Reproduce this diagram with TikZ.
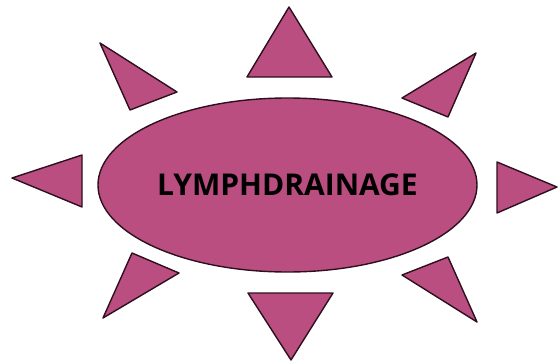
\documentclass[tikz,border=0pt]{standalone}
\usepackage{fontspec}
\setmainfont{Open Sans}
\usepackage{xcolor}
\usepackage{tikz}
\usetikzlibrary{shapes.geometric,positioning,calc}

\definecolor{rayfill}{RGB}{186,78,128}
\definecolor{rayline}{RGB}{45,15,30}

\begin{document}
\begin{tikzpicture}[x=1pt, y=-1pt, line join=round,
  ray/.style={fill=rayfill, draw=rayline, line width=1.4pt}]
\useasboundingbox (0,0) rectangle (558,362);
\node[ellipse, ray, minimum width=379pt, minimum height=174pt, inner sep=0pt,
  font=\fontsize{30}{30}\selectfont\bfseries] (drain) at (287.5,185) {LYMPHDRAINAGE};
% rays round the ellipse
\foreach \ax/\ay/\bx/\by/\cx/\cy in {289/7/247/77/332/77, 100/43/177/92/130/110,
                     476/53/402/98/448/117, 12/178/82/155/82/207,
                     557/187/497/162/497/213, 132/253/179/273/103/318,
                     248/293/333/293/291/360, 448/257/402/275/477/322}
  \draw[ray] (\ax,\ay) -- (\bx,\by) -- (\cx,\cy) -- cycle;
\end{tikzpicture}
\end{document}
